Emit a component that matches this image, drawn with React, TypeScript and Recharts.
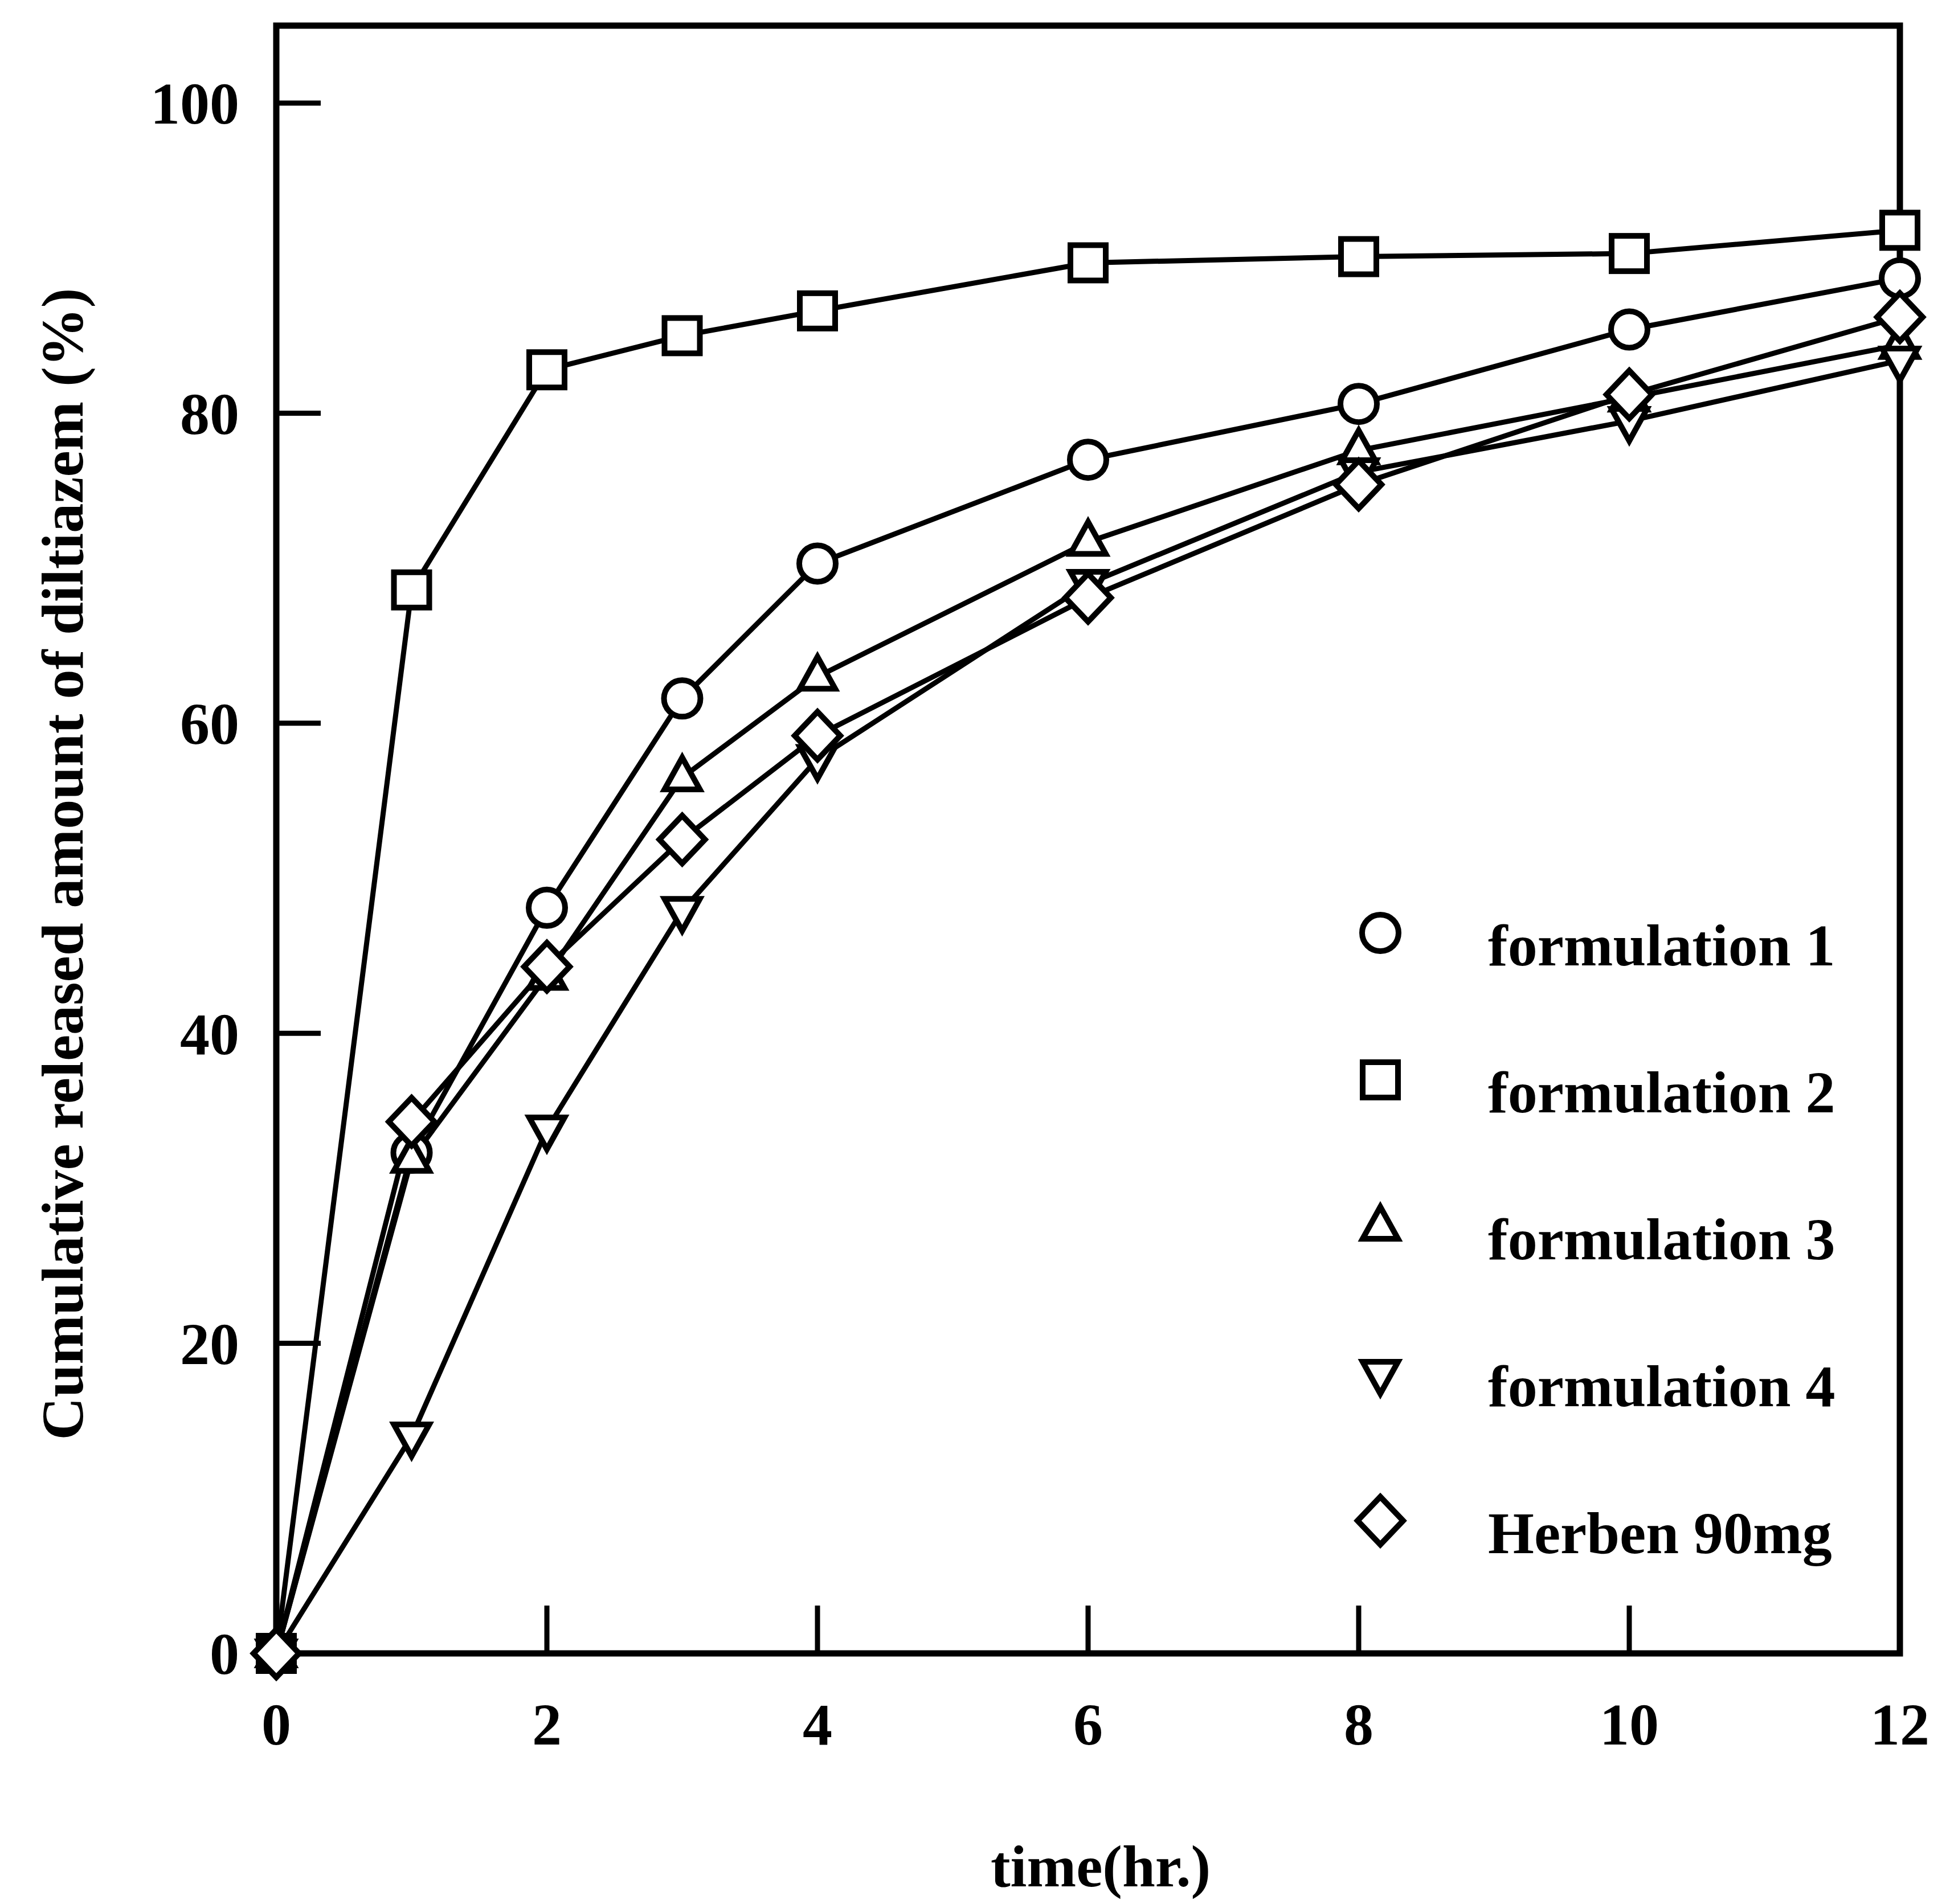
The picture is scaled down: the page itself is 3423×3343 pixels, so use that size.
import { LineChart, Line, XAxis, YAxis, ReferenceArea, Legend, Label } from 'recharts';

const times = [0, 1, 2, 3, 4, 6, 8, 10, 12];
const formulation1 = [0, 32.3, 48.1, 61.6, 70.3, 77.0, 80.6, 85.4, 88.7];
const formulation2 = [0, 68.6, 82.8, 85.0, 86.6, 89.7, 90.1, 90.3, 91.8];
const formulation3 = [0, 31.9, 43.7, 56.5, 63.0, 71.7, 77.6, 81.0, 84.4];
const formulation4 = [0, 14.0, 33.8, 47.9, 57.7, 69.0, 76.2, 79.5, 83.4];
const herben90 = [0, 34.3, 44.3, 52.5, 59.2, 68.1, 75.4, 81.2, 86.2];

const xTicks = [0, 2, 4, 6, 8, 10, 12];
const yTicks = [0, 20, 40, 60, 80, 100];

const series = [
  { key: 'f1', name: 'formulation 1', shape: 'circle', values: formulation1 },
  { key: 'f2', name: 'formulation 2', shape: 'square', values: formulation2 },
  { key: 'f3', name: 'formulation 3', shape: 'triangle', values: formulation3 },
  { key: 'f4', name: 'formulation 4', shape: 'triangleDown', values: formulation4 },
  { key: 'herben', name: 'Herben 90mg', shape: 'diamond', values: herben90 },
];

const data = times.map((t, i) => {
  const row: Record<string, number> = { time: t };
  series.forEach((s) => {
    row[s.key] = s.values[i];
  });
  return row;
});

const W = 3423;
const H = 3343;
const font = '"Liberation Serif", "Times New Roman", serif';
const fontSize = 104;

const Marker = ({ shape, cx, cy }: { shape: string; cx: number; cy: number }) => {
  const st = { fill: '#fff', stroke: '#000', strokeWidth: 10 };
  switch (shape) {
    case 'circle':
      return <circle cx={cx} cy={cy} r={32} {...st} />;
    case 'square':
      return <rect x={cx - 31} y={cy - 31} width={62} height={62} {...st} />;
    case 'triangle':
      return <polygon points={`${cx},${cy - 35} ${cx - 31},${cy + 21} ${cx + 31},${cy + 21}`} {...st} />;
    case 'triangleDown':
      return <polygon points={`${cx},${cy + 35} ${cx - 31},${cy - 21} ${cx + 31},${cy - 21}`} {...st} />;
    default:
      return <polygon points={`${cx},${cy - 42} ${cx + 40},${cy} ${cx},${cy + 42} ${cx - 40},${cy}`} {...st} />;
  }
};

const makeDot = (key: string, shape: string) => (props: any) => {
  const { cx, cy, index } = props;
  return (
    <g key={`${key}-${index}`}>
      <Marker shape={shape} cx={cx} cy={cy} />
    </g>
  );
};

const XTick = ({ x, y, payload }: any) => (
  <text x={x} y={y} textAnchor="middle" fontFamily={font} fontSize={fontSize} fontWeight="bold" fill="#000">
    {payload.value}
  </text>
);

const YTick = ({ x, y, payload }: any) => (
  <text x={x} y={y} dy="0.35em" textAnchor="end" fontFamily={font} fontSize={fontSize} fontWeight="bold" fill="#000">
    {payload.value}
  </text>
);

const renderLegend = ({ payload }: any) => {
  const items = series
    .map((s) => ({ s, item: (payload || []).find((p: any) => p.dataKey === s.key) }))
    .filter((x) => x.item);
  return (
    <div style={{ fontFamily: font, fontSize, fontWeight: 'bold', color: '#000' }}>
      {items.map(({ s, item }) => (
        <div key={s.key} style={{ display: 'flex', alignItems: 'center', height: 258 }}>
          <svg width={100} height={100}>
            <Marker shape={s.shape} cx={50} cy={50} />
          </svg>
          <span style={{ marginLeft: 139, position: 'relative', top: 22, lineHeight: 1, whiteSpace: 'nowrap' }}>
            {item.value}
          </span>
        </div>
      ))}
    </div>
  );
};

const App = () => {
  return (
    <div style={{ position: 'absolute', left: 0, top: 0, width: W, height: H, background: '#fff' }}>
      <LineChart width={W} height={H} data={data} margin={{ top: 45, right: 88, bottom: 140, left: 185 }}>
        <ReferenceArea x1={0} x2={12} y1={0} y2={105} fill="none" stroke="#000" strokeWidth={11} />
        <XAxis
          dataKey="time"
          type="number"
          domain={[0, 12]}
          ticks={xTicks}
          interval={0}
          height={300}
          axisLine={false}
          tickLine={{ stroke: '#000', strokeWidth: 9 }}
          tickSize={-84}
          tickMargin={244}
          tick={<XTick />}
        >
          <Label
            content={() => (
              <text x={1932} y={3312} textAnchor="middle" fontFamily={font} fontSize={fontSize} fontWeight="bold" fill="#000">
                time(hr.)
              </text>
            )}
          />
        </XAxis>
        <YAxis
          type="number"
          domain={[0, 105]}
          ticks={yTicks}
          interval={0}
          width={300}
          axisLine={false}
          tickLine={{ stroke: '#000', strokeWidth: 9 }}
          tickSize={-78}
          tickMargin={143}
          tick={<YTick />}
        >
          <Label
            content={() => (
              <text
                x={0}
                y={0}
                transform="translate(109, 1517) rotate(-90)"
                dy="0.35em"
                textAnchor="middle"
                fontFamily={font}
                fontSize={fontSize}
                fontWeight="bold"
                fill="#000"
              >
                Cumulative released amount of diltiazem (%)
              </text>
            )}
          />
        </YAxis>
        {series.map((s) => (
          <Line
            key={s.key}
            dataKey={s.key}
            name={s.name}
            stroke="#000"
            strokeWidth={9}
            dot={makeDot(s.key, s.shape)}
            activeDot={false}
            isAnimationActive={false}
          />
        ))}
        <Legend
          layout="vertical"
          align="center"
          verticalAlign="middle"
          content={renderLegend}
          wrapperStyle={{ left: 2373, top: 1509, width: 1000 }}
        />
      </LineChart>
    </div>
  );
};

export default App;
